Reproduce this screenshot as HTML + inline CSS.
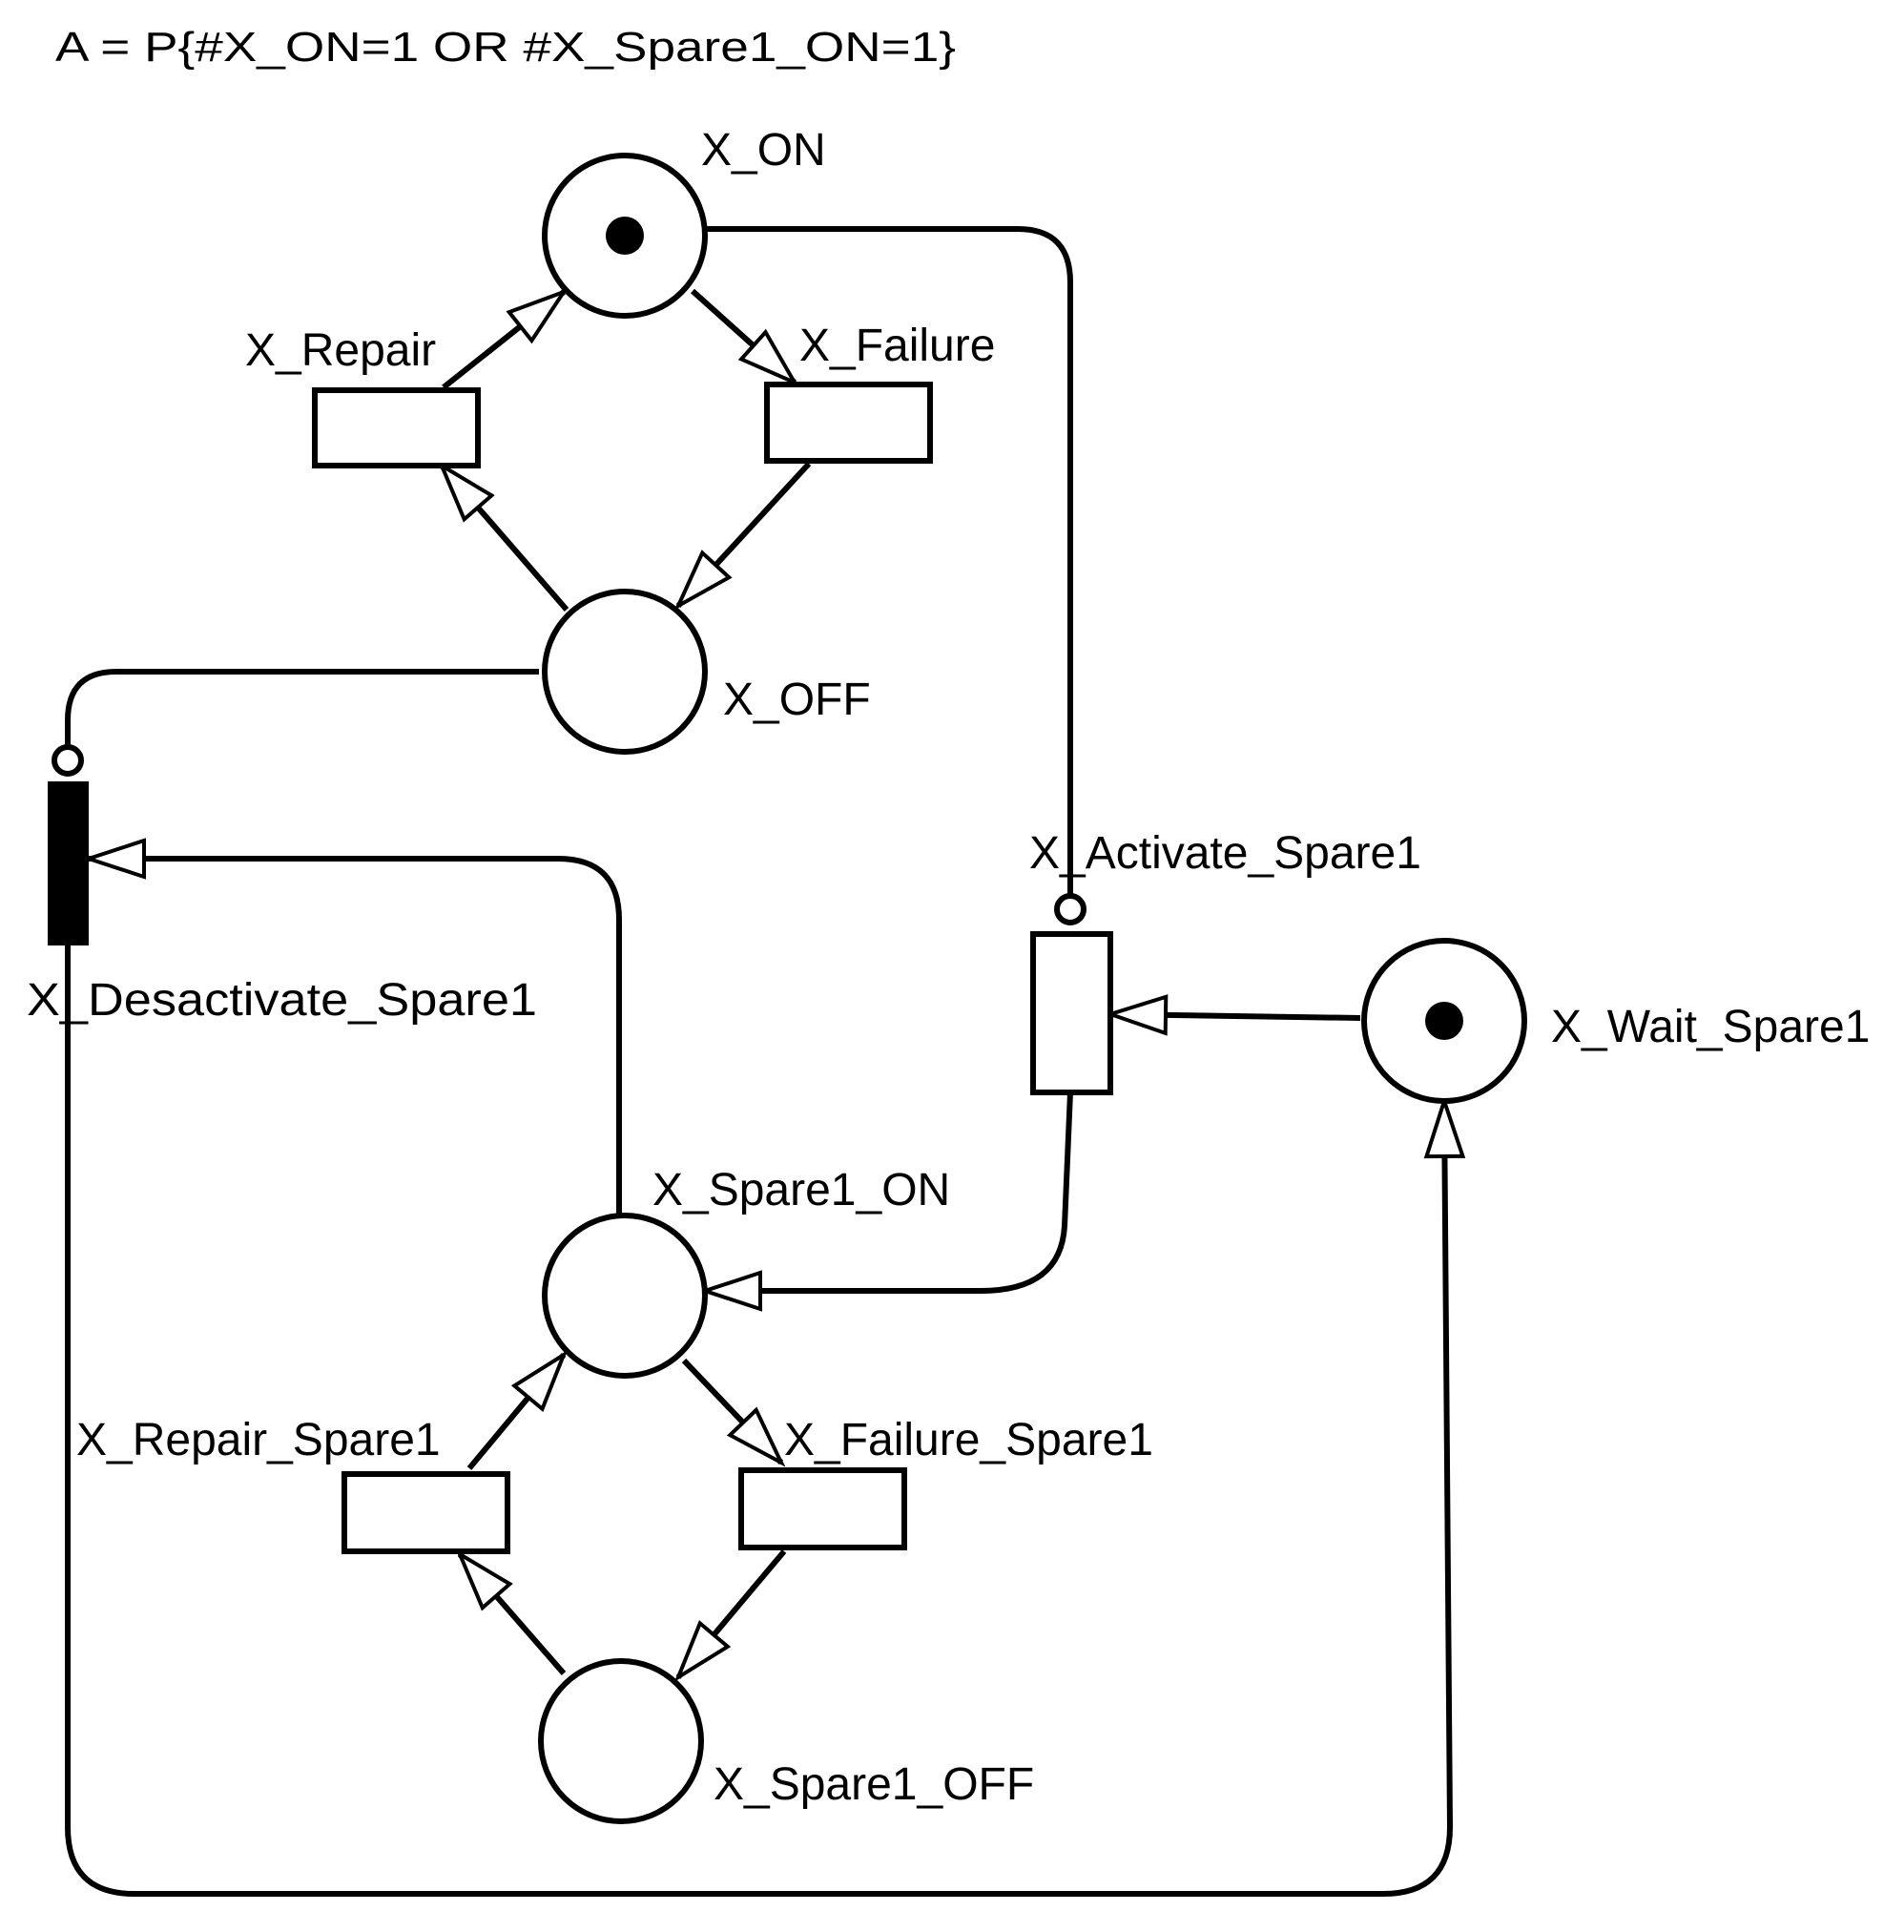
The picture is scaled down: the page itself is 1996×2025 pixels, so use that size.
<!DOCTYPE html>
<html><head><meta charset="utf-8"><style>html,body{margin:0;padding:0;background:#fff}svg{display:block}</style></head>
<body>
<svg width="1996" height="2025" viewBox="0 0 1996 2025" xmlns="http://www.w3.org/2000/svg">
<defs>
<marker id="a" markerUnits="userSpaceOnUse" viewBox="-4 -4 66 46" markerWidth="66" markerHeight="46" refX="58" refY="19" orient="auto" overflow="visible">
<path d="M0,0 L58,19 L0,38 Z" fill="#fff" stroke="#000" stroke-width="4"/>
</marker>
</defs>
<g font-family="Liberation Sans, Arial, sans-serif" font-size="48" fill="#000">
<text x="58" y="64" font-size="44" textLength="944" lengthAdjust="spacingAndGlyphs">A = P{#X_ON=1 OR #X_Spare1_ON=1}</text>
<text x="735" y="173">X_ON</text>
<text x="257" y="383">X_Repair</text>
<text x="838" y="378">X_Failure</text>
<text x="758" y="749">X_OFF</text>
<text x="1079" y="910">X_Activate_Spare1</text>
<text x="28" y="1064" textLength="535" lengthAdjust="spacingAndGlyphs">X_Desactivate_Spare1</text>
<text x="1626" y="1092">X_Wait_Spare1</text>
<text x="684" y="1263">X_Spare1_ON</text>
<text x="80" y="1525">X_Repair_Spare1</text>
<text x="822" y="1525">X_Failure_Spare1</text>
<text x="748" y="1886">X_Spare1_OFF</text>
</g>
<g fill="none" stroke="#000" stroke-width="6">
<!-- long arcs -->
<path d="M739,240 L1067,240 Q1122,240 1122,296 L1122,938"/>
<path d="M565,704 L122,704 Q71,704 71,755 L71,782"/>
<path d="M649,1276 L649,964 Q649,900 585,900 L93,900" marker-end="url(#a)"/>
<path d="M1122,1145 L1116,1285 Q1112,1353 1028,1353 L739,1353" marker-end="url(#a)"/>
<path d="M1426,1067 L1164,1063" marker-end="url(#a)"/>
<path d="M71,991 L71,1915 Q71,1985 141,1985 L1450,1985 Q1520,1985 1520,1915 L1514,1154" marker-end="url(#a)"/>
<!-- local arcs -->
<path d="M465,406 L591,306" marker-end="url(#a)"/>
<path d="M726,305 L833,401" marker-end="url(#a)"/>
<path d="M848,486 L711,635" marker-end="url(#a)"/>
<path d="M594,639 L463,488" marker-end="url(#a)"/>
<path d="M492,1539 L591,1420" marker-end="url(#a)"/>
<path d="M717,1426 L819,1533" marker-end="url(#a)"/>
<path d="M822,1626 L711,1758" marker-end="url(#a)"/>
<path d="M591,1754 L482,1629" marker-end="url(#a)"/>
</g>
<g fill="#fff" stroke="#000" stroke-width="6">
<circle cx="655" cy="247" r="84"/>
<circle cx="655" cy="704" r="84"/>
<circle cx="655" cy="1358" r="84"/>
<circle cx="651" cy="1825" r="84"/>
<circle cx="1514" cy="1070" r="84"/>
<rect x="330" y="409" width="171" height="79"/>
<rect x="804" y="403" width="171" height="80"/>
<rect x="361" y="1545" width="171" height="81"/>
<rect x="777" y="1541" width="171" height="81"/>
<rect x="1083" y="979" width="81" height="166"/>
<circle cx="71" cy="797" r="14"/>
<circle cx="1122" cy="953" r="14"/>
</g>
<rect x="50" y="819" width="43" height="172" fill="#000"/>
<circle cx="655" cy="247" r="20" fill="#000"/>
<circle cx="1514" cy="1070" r="20" fill="#000"/>
</svg>
</body></html>
